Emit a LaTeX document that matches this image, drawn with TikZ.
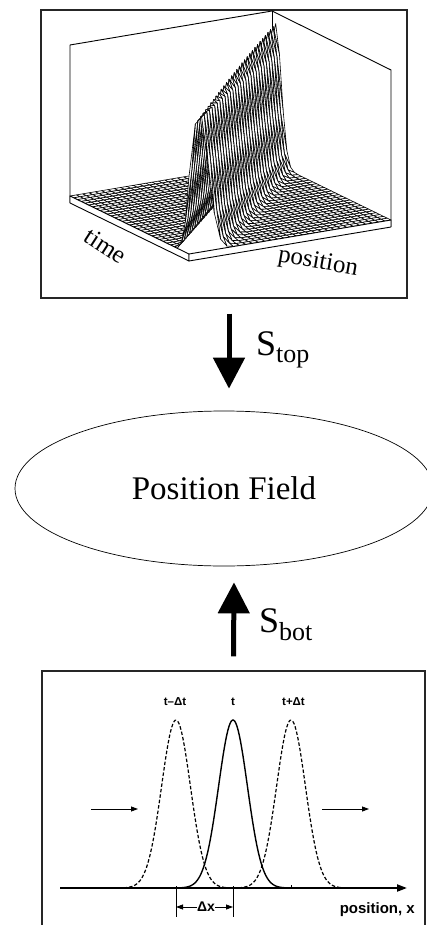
\documentclass[tikz,border=0pt]{standalone}
\usepackage{fontspec}
\setmainfont{Liberation Serif}
\setsansfont{Liberation Sans}
\usetikzlibrary{arrows.meta,shapes.geometric}
\newcommand\mkh[3]{\pgfmathsetmacro\dd{((#2)-0.05-0.98*(#3))/0.065}\pgfmathsetmacro#1{exp(-min(16,\dd*\dd))}}
\tikzset{
  meshq/.style={fill=white, draw=black, line width=0.6pt, line join=round},
  frame/.style={draw=black!85, line width=1.1pt},
  wall/.style={draw=black, line width=0.9pt, line join=round},
  bigarrow/.style={line width=5pt, -{Triangle[width=31pt,length=31pt]}},
  gsolid/.style={line width=1.4pt},
  gdash/.style={line width=1.2pt, dash pattern=on 3.5pt off 2pt},
  smallarrow/.style={line width=0.8pt, -{Triangle[width=5pt,length=7pt]}},
  lbl/.style={font=\sffamily\bfseries\fontsize{11.5}{13}\selectfont, inner sep=0pt},
}
\begin{document}
\begin{tikzpicture}[x=1pt,y=-1pt]
\useasboundingbox (0,0) rectangle (426,925);

% ---------- top box with 3D plot ----------
\node[frame, minimum width=366pt, minimum height=288pt, inner sep=0pt] (plotbox) at (224,154) {};

% walls
\draw[wall] (70,203) -- (70,45) -- (272,11) -- (391,70) -- (391,227);
\draw[wall] (272,11) -- (272,162);

% surface mesh (painter's order, back to front)
\begin{scope}[shift={(189,254)}, x={(202pt,34pt)}, y={(-119pt,58pt)}, z={(0pt,140pt)}]
\foreach \i in {31,30,...,0}{
  \foreach \j in {31,30,...,0}{
    \pgfmathsetmacro\ua{\i/32}
    \pgfmathsetmacro\ub{(\i+1)/32}
    \pgfmathsetmacro\wa{\j/32}
    \pgfmathsetmacro\wb{(\j+1)/32}
    \mkh\haa\wa\ua
    \mkh\hba\wb\ua
    \mkh\hbb\wb\ub
    \mkh\hab\wa\ub
    \filldraw[meshq] (\wa,\ua,\haa) -- (\wb,\ua,\hba) -- (\wb,\ub,\hbb) -- (\wa,\ub,\hab) -- cycle;
  }
}
\end{scope}

% floor slab
\filldraw[wall, fill=white] (70,196) -- (189,254) -- (189,261) -- (70,203) -- cycle;
\filldraw[wall, fill=white] (189,254) -- (391,220) -- (391,227) -- (189,261) -- cycle;

\node[rotate=-33, font=\fontsize{25}{28}\selectfont, inner sep=0pt] (timelbl) at (106,246) {time};
\node[rotate=-10, font=\fontsize{25}{28}\selectfont, inner sep=0pt] (poslbl) at (318,263) {position};

% ---------- ellipse ----------
\node[ellipse, draw, line width=0.7pt, minimum width=418pt, minimum height=155pt, inner sep=0pt,
      font=\fontsize{33}{36}\selectfont] (field) at (224,488.5) {Position Field};

% ---------- arrows ----------
\draw[bigarrow] ([xshift=5pt,yshift=-15pt]plotbox.south) -- ([xshift=5pt,yshift=22pt]field.north);
\node[anchor=base west, inner sep=0pt, font=\fontsize{36}{40}\selectfont] (stop) at (256,355)
  {S\raisebox{-7pt}{\fontsize{26}{28}\selectfont top}};

% ---------- bottom box ----------
\node[frame, minimum width=383pt, minimum height=269pt, inner sep=0pt] (graphbox) at (233.5,805.5) {};
\draw[bigarrow] ([yshift=14pt]graphbox.north) -- ([xshift=10pt,yshift=-16pt]field.south);
\node[anchor=base west, inner sep=0pt, font=\fontsize{36}{40}\selectfont] (sbot) at (259,632)
  {S\raisebox{-8pt}{\fontsize{26}{28}\selectfont bot}};

% gaussians
\coordinate (axs) at (60,888);
\coordinate (axe) at (407,888);
\draw[gdash] plot[domain=-58:58, samples=100] ({176+\x}, {888-168*exp(-\x*\x/414.7)});
\draw[gdash] plot[domain=-58:58, samples=100] ({291+\x}, {888-168*exp(-\x*\x/414.7)});
\draw[gsolid] plot[domain=-58:58, samples=100] ({233+\x}, {888-168*exp(-\x*\x/414.7)});
\draw[line width=2pt, -{Triangle[width=7pt,length=10pt]}] (axs) -- (axe);

% ticks
\coordinate (tk1) at (176,886); \coordinate (tk1b) at (176,917);
\coordinate (tk2) at (233,886); \coordinate (tk2b) at (233,917);
\coordinate (tk3) at (291,885); \coordinate (tk3b) at (291,889);
\draw[line width=0.8pt] (tk1) -- (tk1b);
\draw[line width=0.8pt] (tk2) -- (tk2b);
\draw[line width=0.8pt] (tk3) -- (tk3b);

% labels
\node[lbl] (lm) at (175,702) {t–Δt};
\node[lbl] (lc) at (233,702) {t};
\node[lbl] (lp) at (293.5,702) {t+Δt};
\node[lbl, font=\sffamily\bfseries\fontsize{14}{16}\selectfont] (dx) at (206,907) {Δx};
\draw[smallarrow] (dx.west) -- (tk1 |- dx.west);
\draw[smallarrow] (dx.east) -- (tk2 |- dx.east);
\node[lbl, font=\sffamily\bfseries\fontsize{15}{17}\selectfont, anchor=east] (posx) at (415,910) {position, x};

% motion arrows
\coordinate (la1) at (91,809); \coordinate (la2) at (138,809);
\coordinate (ra1) at (322,809); \coordinate (ra2) at (369,809);
\draw[smallarrow] (la1) -- (la2);
\draw[smallarrow] (ra1) -- (ra2);
\end{tikzpicture}
\end{document}
